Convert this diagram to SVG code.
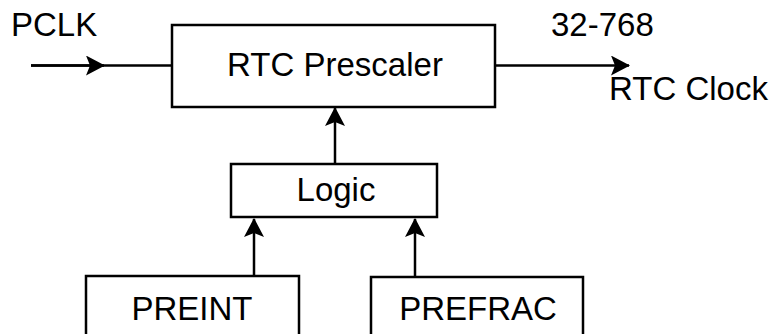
<svg xmlns="http://www.w3.org/2000/svg" width="782" height="334" viewBox="0 0 782 334">
<style>
.box{fill:#fff;stroke:#000;stroke-width:2.5}
.ln{fill:none;stroke:#000;stroke-width:2.5}
text{font-family:"Liberation Sans",Arial,sans-serif;font-size:33px;fill:#000}
.m{text-anchor:middle}
</style>
<defs>
<marker id="ah" viewBox="0 0 19 20" refX="18" refY="10" markerWidth="19" markerHeight="20" markerUnits="userSpaceOnUse" orient="auto">
<path d="M0,0 L19,10 L0,20 L4,10 Z" fill="#000"/>
</marker>
</defs>
<g id="connectors">
<line class="ln" x1="31" y1="65.5" x2="172" y2="65.5"/>
<line class="ln" x1="31" y1="65.5" x2="104" y2="65.5" marker-end="url(#ah)"/>
<line class="ln" x1="495" y1="65.5" x2="629" y2="65.5" marker-end="url(#ah)"/>
<line class="ln" x1="335" y1="164" x2="335" y2="108" marker-end="url(#ah)"/>
<line class="ln" x1="254" y1="276" x2="254" y2="219" marker-end="url(#ah)"/>
<line class="ln" x1="415" y1="277" x2="415" y2="219" marker-end="url(#ah)"/>
</g>
<g id="pclk-label"><text x="11" y="36">PCLK</text></g>
<g id="out-label">
<text x="551" y="36">32-768</text>
<text x="609" y="100">RTC Clock</text>
</g>
<g id="prescaler">
<rect class="box" x="172" y="25" width="323" height="82"/>
<text class="m" x="335" y="76">RTC Prescaler</text>
</g>
<g id="logic">
<rect class="box" x="231" y="164" width="206" height="53"/>
<text class="m" x="336" y="201">Logic</text>
</g>
<g id="preint">
<rect class="box" x="86" y="276" width="213" height="70"/>
<text class="m" x="192" y="320">PREINT</text>
</g>
<g id="prefrac">
<rect class="box" x="371" y="277" width="212" height="70"/>
<text class="m" x="478" y="320">PREFRAC</text>
</g>
</svg>
